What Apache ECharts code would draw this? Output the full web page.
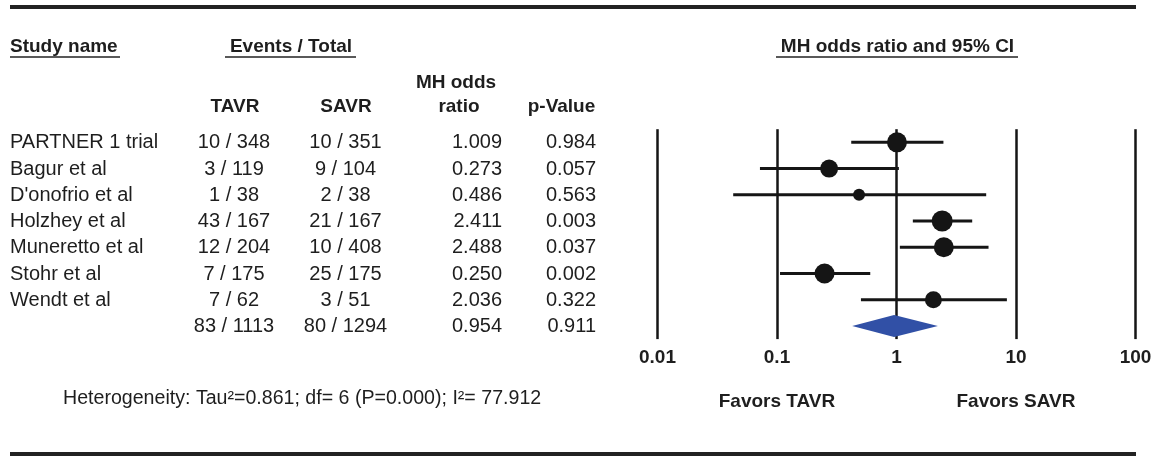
<!DOCTYPE html>
<html><head><meta charset="utf-8">
<script src="https://cdn.jsdelivr.net/npm/echarts@6/dist/echarts.min.js"></script>
<style>html,body{margin:0;padding:0;background:#fff}#c{width:1157px;height:456px}</style>
</head><body><div id="c"></div>
<script>
// ---- data ----
const studies = ['PARTNER 1 trial', 'Bagur et al', "D'onofrio et al", 'Holzhey et al', 'Muneretto et al', 'Stohr et al', 'Wendt et al', ''];
const tavrEvents = [10, 3, 1, 43, 12, 7, 7, 83];
const tavrTotal = [348, 119, 38, 167, 204, 175, 62, 1113];
const savrEvents = [10, 9, 2, 21, 10, 25, 3, 80];
const savrTotal = [351, 104, 38, 167, 408, 175, 51, 1294];
const oddsRatio = [1.009, 0.273, 0.486, 2.411, 2.488, 0.250, 2.036, 0.954];
const oddsRatioText = ['1.009', '0.273', '0.486', '2.411', '2.488', '0.250', '2.036', '0.954'];
const pValues = ['0.984', '0.057', '0.563', '0.003', '0.037', '0.002', '0.322', '0.911'];
const lowerCI = [0.418, 0.072, 0.043, 1.37, 1.067, 0.106, 0.504, 0.426];
const upperCI = [2.47, 1.047, 5.63, 4.3, 5.89, 0.603, 8.39, 2.22];
const tickValues = [0.01, 0.1, 1, 10, 100];
const tickLabels = ['0.01', '0.1', '1', '10', '100'];
const heterogeneity = 'Heterogeneity: Tau\u00B2=0.861; df= 6 (P=0.000); I\u00B2= 77.912';

// ---- chart ----
const chart = echarts.init(document.getElementById('c'), null, {renderer: 'canvas'});
const FF = '"Liberation Sans", Arial, sans-serif';
const TXT = '#1e1e1e';
const LINE = '#151515';
const nStudies = 7;
const summaryIdx = 7;
const markerSize = [20, 18, 12, 21, 20, 20, 17];

function font(size, bold) { return (bold ? 'bold ' : '') + size + 'px ' + FF; }

const ciData = [];
const pointData = [];
for (let i = 0; i < nStudies; i++) {
  ciData.push([lowerCI[i], upperCI[i], i]);
  pointData.push({value: [oddsRatio[i], i], symbolSize: markerSize[i]});
}
const summaryData = [[lowerCI[summaryIdx], oddsRatio[summaryIdx], upperCI[summaryIdx], summaryIdx]];
const tableData = studies.map((_, i) => [1, i]);

const option = {
  animation: false,
  backgroundColor: '#fff',
  grid: {left: 657.5, right: 21.5, top: 129.2, height: 209.9},
  xAxis: {
    type: 'log', logBase: 10, min: 0.01, max: 100,
    axisLine: {show: false}, axisTick: {show: false},
    splitLine: {show: true, showMinLine: true, showMaxLine: true, lineStyle: {color: LINE, width: 2.5}},
    axisLabel: {
      fontSize: 19, fontWeight: 'bold', fontFamily: FF, color: TXT, margin: 9,
      formatter: function (v) {
        let best = 0;
        for (let k = 0; k < tickValues.length; k++) {
          if (Math.abs(Math.log10(tickValues[k]) - Math.log10(v)) < Math.abs(Math.log10(tickValues[best]) - Math.log10(v))) best = k;
        }
        return tickLabels[best];
      }
    }
  },
  yAxis: {type: 'value', min: -0.5, max: 7.5, inverse: true, show: false, splitLine: {show: false}},
  series: [
    {
      type: 'custom', name: 'ci', data: ciData, clip: false, z: 3,
      encode: {x: [0, 1], y: 2},
      renderItem: function (params, api) {
        const a = api.coord([api.value(0), api.value(2)]);
        const b = api.coord([api.value(1), api.value(2)]);
        return {type: 'line', shape: {x1: a[0], y1: a[1], x2: b[0], y2: b[1]}, style: {stroke: LINE, lineWidth: 3}};
      }
    },
    {
      type: 'scatter', name: 'or', data: pointData, z: 4,
      itemStyle: {color: LINE, opacity: 1}
    },
    {
      type: 'custom', name: 'summary', data: summaryData, clip: false, z: 5,
      encode: {x: [0, 1, 2], y: 3},
      renderItem: function (params, api) {
        const r = api.value(3);
        const l = api.coord([api.value(0), r]);
        const m = api.coord([api.value(1), r]);
        const h = api.coord([api.value(2), r]);
        const half = api.size([0, 0.42])[1];
        return {type: 'polygon', shape: {points: [[l[0], l[1]], [m[0], m[1] - half], [h[0], h[1]], [m[0], m[1] + half]]},
          style: {fill: '#3150a6', stroke: null}};
      }
    },
    {
      type: 'custom', name: 'table', data: tableData, clip: false, z: 6, silent: true,
      encode: {x: 0, y: 1},
      renderItem: function (params, api) {
        const i = api.value(1);
        const y = api.coord([1, i])[1] + 0.5;
        const mk = (text, x, align) => ({type: 'text', style: {text: text, x: x, y: y, font: font(20, false), fill: TXT, textAlign: align, textVerticalAlign: 'middle'}});
        return {type: 'group', children: [
          mk(studies[i], 10, 'left'),
          mk(tavrEvents[i] + ' / ' + tavrTotal[i], 234, 'center'),
          mk(savrEvents[i] + ' / ' + savrTotal[i], 345.5, 'center'),
          mk(oddsRatioText[i], 502, 'right'),
          mk(pValues[i], 596, 'right')
        ]};
      }
    }
  ]
};
chart.setOption(option);

const x1 = chart.convertToPixel({xAxisIndex: 0}, 1);
const x01 = chart.convertToPixel({xAxisIndex: 0}, 0.1);
const x10 = chart.convertToPixel({xAxisIndex: 0}, 10);
const bt = (text, x, y, align) => ({type: 'text', style: {text: text, x: x, y: y, font: font(19, true), fill: TXT, textAlign: align, textVerticalAlign: 'middle'}});
const hl = (xa, xb, y, w) => ({type: 'line', shape: {x1: xa, y1: y, x2: xb, y2: y}, style: {stroke: '#222', lineWidth: w}});
chart.setOption({
  graphic: [
    hl(10, 1136, 7, 4),
    hl(10, 1136, 454, 4),
    bt('Study name', 10, 47, 'left'),
    hl(10, 120, 57, 1.5),
    bt('Events / Total', 291, 47, 'center'),
    hl(225, 356, 57, 1.5),
    bt('MH odds ratio and 95% CI', x1 + 1, 47, 'center'),
    hl(776, 1018, 57, 1.5),
    bt('TAVR', 235, 107, 'center'),
    bt('SAVR', 346, 107, 'center'),
    bt('MH odds', 456, 83, 'center'),
    bt('ratio', 459, 107, 'center'),
    bt('p-Value', 561.5, 107, 'center'),
    bt('Favors TAVR', x01, 402, 'center'),
    bt('Favors SAVR', x10, 402, 'center'),
    {type: 'text', style: {text: heterogeneity, x: 63, y: 399, font: font(19.6, false), fill: TXT, textAlign: 'left', textVerticalAlign: 'middle'}}
  ]
});
</script></body></html>
